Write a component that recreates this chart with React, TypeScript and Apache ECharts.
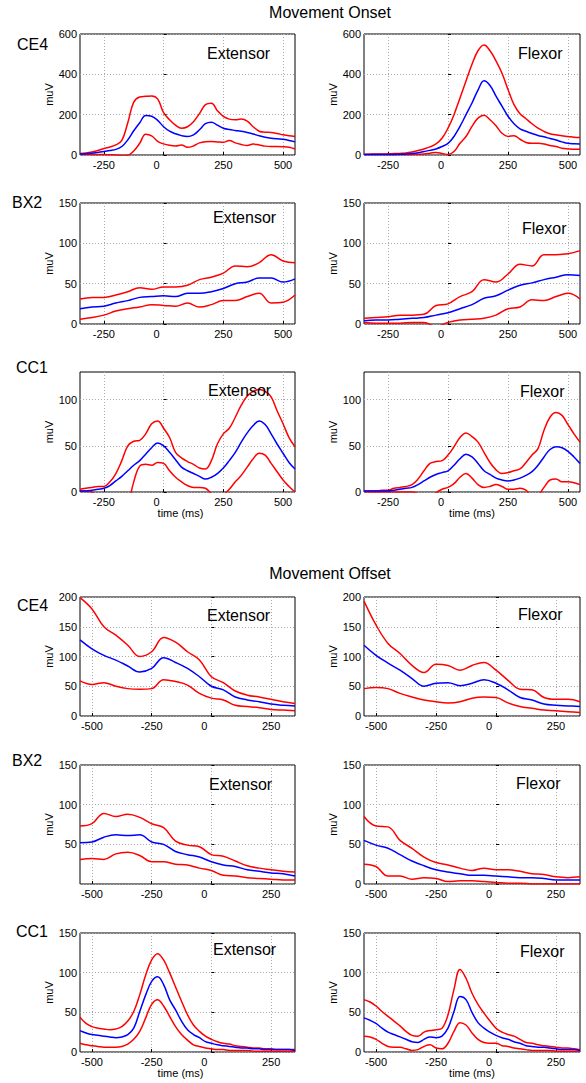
import React, { useEffect, useRef } from "react";
import * as echarts from "echarts";

// ---------- time axes (ms) ----------
const onsetTime = [-350, -300, -250, -200, -150, -100, -50, 0, 50, 100, 150, 200, 250, 300, 350, 400, 450, 500, 550];
const offsetTime = [-550, -500, -450, -400, -350, -300, -250, -200, -150, -100, -50, 0, 50, 100, 150, 200, 250, 300, 350];
const onsetTimeFine = [-350, -325, -300, -275, -250, -225, -200, -175, -150, -125, -100, -75, -50, -25, 0, 25, 50, 75, 100, 125, 150, 175, 200, 225, 250, 275, 300, 325, 350, 375, 400, 425, 450, 475, 500, 525, 550];
const offsetTimeFine = [-550, -525, -500, -475, -450, -425, -400, -375, -350, -325, -300, -275, -250, -225, -200, -175, -150, -125, -100, -75, -50, -25, 0, 25, 50, 75, 100, 125, 150, 175, 200, 225, 250, 275, 300, 325, 350];
const onsetXTicks = [-250, 0, 250, 500];
const offsetXTicks = [-500, -250, 0, 250];

// ---------- Movement Onset ----------
// CE4 (25 ms samples)
const onCE4ExtMean = [5, 6, 9, 13, 17, 22, 28, 42, 75, 120, 160, 196, 192, 172, 140, 118, 105, 96, 92, 100, 125, 155, 163, 148, 133, 126, 122, 118, 112, 104, 95, 88, 83, 80, 78, 72, 65];
const onCE4ExtUpper = [7, 10, 15, 22, 32, 40, 50, 72, 160, 262, 288, 291, 293, 278, 210, 175, 148, 133, 140, 165, 205, 250, 257, 220, 192, 178, 175, 178, 168, 140, 118, 113, 112, 107, 100, 95, 92];
const onCE4ExtLower = [5, 4, 3, 2, 2, 1, 0, -2, -1, 20, 58, 103, 95, 68, 55, 48, 45, 50, 38, 45, 60, 66, 67, 65, 63, 72, 60, 52, 47, 54, 50, 44, 42, 42, 41, 38, 30];

const onCE4FlxMean = [3, 3, 3, 3, 3, 3, 4, 5, 7, 11, 17, 23, 30, 42, 58, 92, 142, 200, 258, 322, 368, 345, 292, 242, 192, 155, 130, 118, 107, 97, 90, 82, 74, 65, 58, 56, 55];
const onCE4FlxUpper = [3, 4, 5, 5, 6, 7, 8, 10, 15, 22, 30, 40, 55, 83, 133, 200, 283, 367, 450, 517, 545, 517, 467, 405, 325, 250, 205, 180, 155, 133, 117, 105, 100, 95, 92, 88, 87];
const onCE4FlxLower = [2, 2, 3, 3, 2, 2, 2, 2, 3, 4, 5, 9, 13, 8, 3, 17, 58, 92, 142, 183, 197, 175, 145, 108, 92, 96, 78, 62, 58, 58, 55, 47, 42, 33, 30, 28, 28];

// BX2 (50 ms samples)
const onBX2ExtMean = [19, 21, 22, 26, 29, 33, 34, 35, 34, 38, 38, 40, 44, 50, 52, 57, 57, 52, 56];
const onBX2ExtUpper = [31, 33, 33, 36, 40, 45, 43, 46, 46, 48, 55, 58, 63, 72, 71, 76, 86, 78, 76];
const onBX2ExtLower = [6, 8, 11, 16, 19, 21, 24, 23, 22, 26, 21, 24, 29, 29, 34, 38, 26, 27, 36];

const onBX2FlxMean = [4, 5, 5, 6, 7, 8, 11, 14, 19, 24, 32, 35, 42, 48, 51, 55, 58, 61, 60];
const onBX2FlxUpper = [7, 8, 9, 11, 11, 12, 23, 25, 34, 40, 55, 52, 62, 74, 72, 86, 86, 87, 91];
const onBX2FlxLower = [2, 1, 1, 1, 2, 2, -3, 2, 5, 6, 7, 11, 19, 21, 30, 29, 34, 38, 31];

// CC1 (25 ms samples)
const onCC1ExtMean = [1, 1, 2, 3, 4, 7, 12, 17, 23, 29, 34, 41, 48, 53, 50, 43, 35, 27, 23, 20, 17, 14, 16, 20, 26, 34, 43, 54, 64, 72, 77, 73, 63, 52, 42, 32, 25];
const onCC1ExtUpper = [3, 4, 5, 6, 6, 11, 20, 34, 50, 55, 56, 63, 74, 77, 69, 59, 43, 37, 33, 30, 26, 25, 34, 52, 63, 69, 81, 94, 104, 109, 111, 109, 103, 88, 74, 59, 49];
const onCC1ExtLower = [1, 1, 0, -5, -10, -20, -25, -30, -15, 11, 28, 30, 29, 32, 31, 23, 16, 11, 7, 5, 5, 4, -2, -8, -3, 3, 11, 18, 27, 36, 42, 40, 31, 22, 13, 6, 0];

const onCC1FlxMean = [1, 1, 1, 1, 1, 2, 3, 4, 5, 8, 12, 16, 19, 21, 23, 29, 36, 41, 38, 31, 23, 19, 15, 13, 12, 13, 15, 18, 22, 29, 38, 46, 49, 48, 44, 38, 31];
const onCC1FlxUpper = [1, 1, 1, 2, 2, 4, 5, 6, 8, 14, 23, 31, 33, 34, 40, 49, 59, 64, 60, 54, 43, 32, 24, 20, 21, 23, 25, 32, 40, 47, 67, 81, 86, 83, 73, 63, 54];
const onCC1FlxLower = [0, 0, 0, 0, 0, 0, 0, 0, 0, -2, -8, -8, -1, 3, 5, 9, 16, 20, 15, 8, 5, 6, 8, 6, 3, 3, 4, 2, -4, -3, 5, 13, 14, 11, 11, 10, 8];

// ---------- Movement Offset ----------
// CE4 (50 ms samples)
const offCE4ExtMean = [128, 113, 102, 94, 84, 74, 80, 98, 90, 80, 66, 50, 44, 32, 27, 24, 20, 18, 17];
const offCE4ExtUpper = [199, 180, 150, 136, 119, 100, 108, 132, 124, 108, 94, 66, 56, 42, 35, 32, 28, 24, 21];
const offCE4ExtLower = [59, 53, 56, 50, 46, 45, 46, 61, 58, 52, 38, 30, 27, 18, 16, 14, 11, 10, 9];

const offCE4FlxMean = [119, 102, 89, 77, 63, 50, 55, 56, 51, 55, 61, 55, 44, 31, 27, 20, 18, 17, 16];
const offCE4FlxUpper = [193, 153, 122, 105, 85, 73, 87, 85, 77, 85, 90, 77, 60, 45, 44, 31, 28, 28, 24];
const offCE4FlxLower = [46, 48, 46, 38, 32, 27, 24, 22, 24, 30, 32, 31, 22, 16, 13, 10, 9, 7, 6];

// BX2 (50 ms samples)
const offBX2ExtMean = [52, 53, 59, 62, 61, 62, 53, 50, 41, 37, 34, 28, 24, 22, 18, 16, 14, 13, 10];
const offBX2ExtUpper = [73, 76, 89, 85, 88, 84, 76, 71, 54, 49, 47, 37, 35, 29, 23, 20, 18, 16, 15];
const offBX2ExtLower = [31, 32, 31, 38, 40, 36, 28, 28, 25, 24, 20, 17, 11, 10, 8, 7, 6, 5, 5];

const offBX2FlxMean = [55, 49, 45, 37, 29, 23, 18, 15, 13, 11, 11, 10, 9, 8, 8, 7, 5, 5, 5];
const offBX2FlxUpper = [85, 73, 72, 55, 45, 34, 27, 24, 20, 17, 20, 18, 18, 16, 13, 12, 9, 8, 9];
const offBX2FlxLower = [25, 22, 10, 10, 6, 8, 7, 3, 4, 4, 3, 2, 1, 1, 0, 0, 0, 0, 0];

// CC1 (25 ms samples)
const offCC1ExtMean = [27, 24, 22, 21, 20, 19, 18, 19, 22, 30, 51, 72, 89, 95, 85, 66, 53, 39, 28, 22, 18, 13, 11, 9, 8, 7, 6, 5, 5, 4, 4, 3, 3, 3, 3, 3, 2];
const offCC1ExtUpper = [44, 36, 32, 30, 29, 28, 29, 32, 39, 51, 72, 97, 116, 124, 116, 100, 82, 64, 47, 34, 26, 20, 16, 13, 11, 10, 8, 7, 6, 5, 5, 4, 4, 3, 3, 3, 3];
const offCC1ExtLower = [11, 9, 8, 7, 6, 6, 6, 7, 10, 16, 26, 43, 60, 66, 58, 45, 32, 22, 15, 9, 7, 5, 4, 3, 3, 2, 2, 2, 2, 1, 1, 1, 1, 1, 1, 1, 1];

const offCC1FlxMean = [43, 40, 36, 30, 25, 22, 19, 16, 13, 12, 16, 19, 18, 20, 30, 51, 70, 66, 50, 37, 30, 25, 21, 18, 16, 13, 11, 8, 7, 6, 6, 5, 4, 3, 3, 3, 2];
const offCC1FlxUpper = [66, 63, 58, 51, 45, 39, 33, 26, 21, 20, 25, 27, 28, 30, 47, 79, 104, 93, 74, 60, 49, 39, 30, 25, 22, 20, 16, 12, 11, 9, 8, 7, 6, 5, 5, 4, 3];
const offCC1FlxLower = [20, 19, 16, 11, 7, 6, 6, 4, 2, 3, 7, 9, 5, 4, 11, 26, 37, 34, 24, 16, 12, 11, 11, 8, 7, 5, 4, 3, 2, 2, 2, 2, 1, 1, 1, 1, 1];

// ---------- labels ----------
const sectionTitles = ["Movement Onset", "Movement Offset"];
const channelNames = ["CE4", "BX2", "CC1", "CE4", "BX2", "CC1"];
const muscleNames = ["Extensor", "Flexor"];
const yMaxByRow = [600, 150, 130, 200, 150, 150];
const yTicksByRow = [
  [0, 200, 400, 600],
  [0, 50, 100, 150],
  [0, 50, 100],
  [0, 50, 100, 150, 200],
  [0, 50, 100, 150],
  [0, 50, 100, 150],
];

// ---------- layout (pixels) ----------
const colLeft = [80, 364];
const colWidth = [215, 216];
const rowTop = [34, 203, 372, 597, 765, 933];
const rowHeight = [121, 121, 120, 119, 119, 119];
const channelPos = [
  [17, 44], [12, 202], [16, 367], [17, 605], [12, 760], [16, 931],
];
const musclePos = [
  [[207, 53], [518, 53]],
  [[213, 217], [522, 228]],
  [[208, 390], [520, 391]],
  [[207, 615], [518, 614]],
  [[209, 784], [516, 783]],
  [[213, 949], [520, 951]],
];
const titlePos = [[330, 12], [330, 573]];

const FONT = "'Liberation Sans', Arial, Helvetica, sans-serif";

export default function App() {
  const ref = useRef<HTMLDivElement>(null);

  useEffect(() => {
    if (!ref.current) return;
    const chart = echarts.init(ref.current, null, { renderer: "svg" });

    const panelData = [
      [[onCE4ExtMean, onCE4ExtUpper, onCE4ExtLower], [onCE4FlxMean, onCE4FlxUpper, onCE4FlxLower]],
      [[onBX2ExtMean, onBX2ExtUpper, onBX2ExtLower], [onBX2FlxMean, onBX2FlxUpper, onBX2FlxLower]],
      [[onCC1ExtMean, onCC1ExtUpper, onCC1ExtLower], [onCC1FlxMean, onCC1FlxUpper, onCC1FlxLower]],
      [[offCE4ExtMean, offCE4ExtUpper, offCE4ExtLower], [offCE4FlxMean, offCE4FlxUpper, offCE4FlxLower]],
      [[offBX2ExtMean, offBX2ExtUpper, offBX2ExtLower], [offBX2FlxMean, offBX2FlxUpper, offBX2FlxLower]],
      [[offCC1ExtMean, offCC1ExtUpper, offCC1ExtLower], [offCC1FlxMean, offCC1FlxUpper, offCC1FlxLower]],
    ];
    const rowTime = [onsetTimeFine, onsetTime, onsetTimeFine, offsetTime, offsetTime, offsetTimeFine];

    const grids: any[] = [];
    const xAxes: any[] = [];
    const yAxes: any[] = [];
    const series: any[] = [];
    const graphics: any[] = [];

    for (let r = 0; r < 6; r++) {
      const isOnset = r < 3;
      const time = rowTime[r];
      const xTicks = isOnset ? onsetXTicks : offsetXTicks;
      const showTimeName = r === 2 || r === 5;
      for (let c = 0; c < 2; c++) {
        const idx = grids.length;
        grids.push({
          left: colLeft[c],
          top: rowTop[r],
          width: colWidth[c],
          height: rowHeight[r],
          show: true,
          borderColor: "#000",
          borderWidth: 1,
          backgroundColor: "#fff",
          containLabel: false,
        });
        xAxes.push({
          type: "value",
          gridIndex: idx,
          min: time[0],
          max: time[time.length - 1],
          axisLine: { show: false },
          axisTick: { show: true, inside: true, length: 3, customValues: xTicks, lineStyle: { color: "#000" } },
          axisLabel: {
            customValues: xTicks,
            fontSize: 11,
            color: "#000",
            fontFamily: FONT,
            margin: 4,
            formatter: (v: number) => (v === 0 ? "{z|0}" : String(v)),
            rich: { z: { fontSize: 11, color: "#000", fontFamily: FONT, padding: [0, 14, 0, 0] } },
          },
          splitLine: { show: true, lineStyle: { color: "#aaa", type: [1, 2], width: 1 } },
          name: showTimeName ? "time (ms)" : "",
          nameLocation: "middle",
          nameGap: 15,
          nameTextStyle: { fontSize: 11, color: "#000", fontFamily: FONT, padding: c === 0 ? [0, 14, 0, 0] : 0 },
        });
        const yTicks = yTicksByRow[r];
        const yLabels = r === 4 && c === 0 ? yTicks.filter((v) => v !== 0) : yTicks;
        yAxes.push({
          type: "value",
          gridIndex: idx,
          min: 0,
          max: yMaxByRow[r],
          axisLine: { show: false },
          axisTick: { show: true, inside: true, length: 3, customValues: yTicks, lineStyle: { color: "#000" } },
          axisLabel: { customValues: yLabels, fontSize: 11, color: "#000", fontFamily: FONT, margin: 3 },
          splitLine: { show: true, lineStyle: { color: "#aaa", type: [1, 2], width: 1 } },
          name: "muV",
          nameLocation: "middle",
          nameGap: 25,
          nameTextStyle: { fontSize: 11, color: "#000", fontFamily: FONT },
        });
        const [mean, upper, lower] = panelData[r][c];
        const mk = (arr: number[], color: string, z: number) => ({
          type: "line",
          xAxisIndex: idx,
          yAxisIndex: idx,
          data: time.map((t, k) => [t, arr[k]]),
          smooth: 0.4,
          symbol: "none",
          silent: true,
          clip: true,
          z,
          lineStyle: { color, width: 1.5 },
        });
        series.push(mk(upper, "#ff0000", 2), mk(lower, "#ff0000", 2), mk(mean, "#0000ff", 3));

        const [mx, my] = musclePos[r][c];
        graphics.push({
          type: "text",
          x: mx,
          y: my,
          z: 10,
          style: {
            text: muscleNames[c],
            fontSize: 16,
            fontFamily: FONT,
            fill: "#000",
            textAlign: "left",
            textVerticalAlign: "middle",
          },
        });
      }
      const [cx, cy] = channelPos[r];
      graphics.push({
        type: "text",
        x: cx,
        y: cy,
        style: {
          text: channelNames[r],
          fontSize: 16,
          fontFamily: FONT,
          fill: "#000",
          textAlign: "left",
          textVerticalAlign: "middle",
        },
      });
    }
    for (let s = 0; s < 2; s++) {
      graphics.push({
        type: "text",
        x: titlePos[s][0],
        y: titlePos[s][1],
        style: {
          text: sectionTitles[s],
          fontSize: 16,
          fontFamily: FONT,
          fill: "#000",
          textAlign: "center",
          textVerticalAlign: "middle",
        },
      });
    }

    chart.setOption({
      animation: false,
      backgroundColor: "#fff",
      grid: grids,
      xAxis: xAxes,
      yAxis: yAxes,
      series,
      graphic: graphics,
    });

    return () => chart.dispose();
  }, []);

  return (
    <div
      ref={ref}
      style={{ position: "fixed", left: 0, top: 0, width: 586, height: 1083 }}
    />
  );
}
